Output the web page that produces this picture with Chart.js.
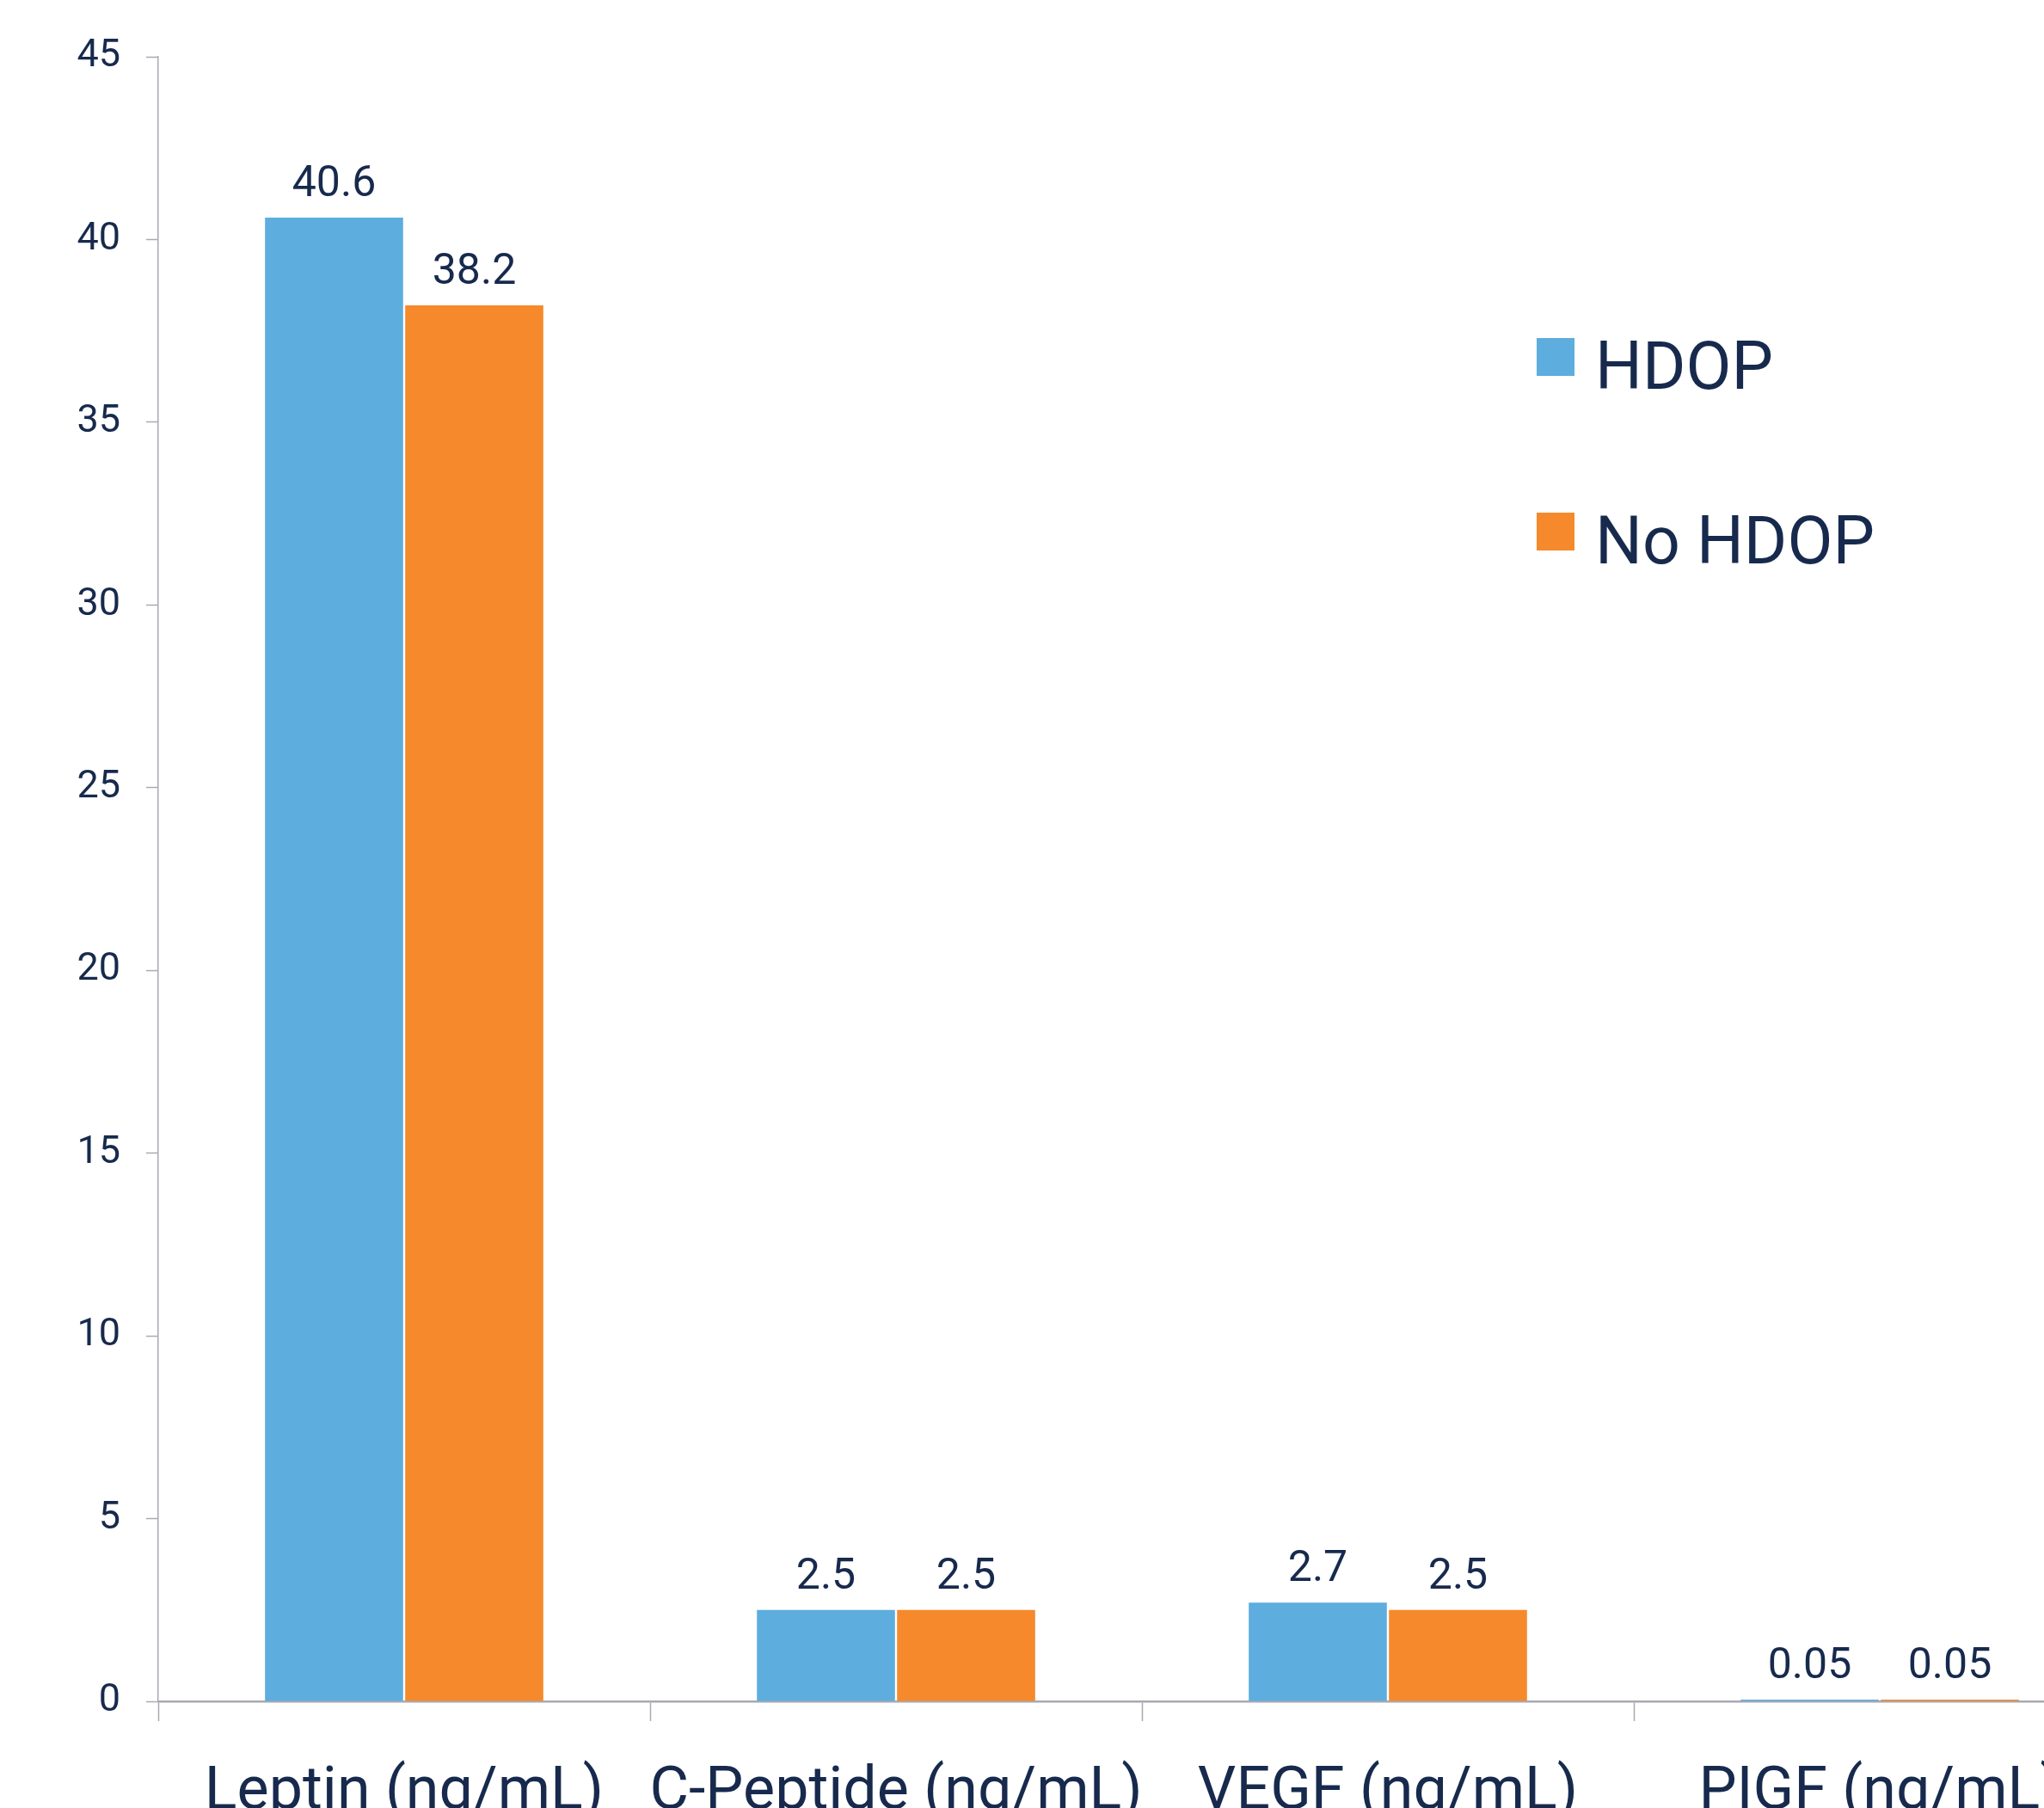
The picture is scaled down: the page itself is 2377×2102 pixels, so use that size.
<!DOCTYPE html>
<html>
<head>
<meta charset="utf-8">
<script src="https://cdn.jsdelivr.net/npm/chart.js@4.4.1/dist/chart.umd.min.js"></script>
<style>
  html, body { margin: 0; padding: 0; background: #fff; overflow: hidden; }
  #wrap { position: absolute; left: 0; top: 0; width: 2482px; height: 2160px; }
</style>
</head>
<body>
<div id="wrap"><canvas id="barChart"></canvas></div>
<script>
const CATEGORIES = ["Leptin (ng/mL)", "C-Peptide (ng/mL)", "VEGF (ng/mL)", "PIGF (ng/mL)"];
const HDOP = [40.6, 2.5, 2.7, 0.05];
const NO_HDOP = [38.2, 2.5, 2.5, 0.05];
const SERIES_NAMES = ["HDOP", "No HDOP"];
const Y_TICKS = [0, 5, 10, 15, 20, 25, 30, 35, 40, 45];

const NAVY = "#172a4d";
const AXIS = "#a9a9b3";
const FONT = "Roboto";

// value labels over each bar
const barLabels = {
  id: "barLabels",
  afterDatasetsDraw(chart) {
    const ctx = chart.ctx;
    ctx.save();
    ctx.font = "50px " + FONT;
    ctx.fillStyle = NAVY;
    ctx.textAlign = "center";
    ctx.textBaseline = "alphabetic";
    chart.data.datasets.forEach((ds, i) => {
      chart.getDatasetMeta(i).data.forEach((bar, j) => {
        ctx.fillText(String(ds.data[j]), bar.x, bar.y - 25);
      });
    });
    ctx.restore();
  }
};

// legend sitting inside the plot, top right
const sideLegend = {
  id: "sideLegend",
  afterDraw(chart, args, opts) {
    const ctx = chart.ctx;
    ctx.save();
    ctx.font = opts.size + "px " + FONT;
    ctx.textBaseline = "alphabetic";
    ctx.textAlign = "left";
    chart.data.datasets.forEach((ds, i) => {
      const y = opts.y + i * opts.step;
      ctx.fillStyle = ds.backgroundColor;
      ctx.fillRect(opts.x, y, opts.box, opts.box);
      ctx.fillStyle = NAVY;
      ctx.fillText(ds.label, opts.x + 68, y + 59);
    });
    ctx.restore();
  }
};

let barChart = new Chart(document.getElementById("barChart"), {
  type: "bar",
  data: {
    labels: CATEGORIES,
    datasets: [
      {
        label: SERIES_NAMES[0],
        data: HDOP,
        backgroundColor: "#5dadde",
        categoryPercentage: 0.57,
        barPercentage: 0.985
      },
      {
        label: SERIES_NAMES[1],
        data: NO_HDOP,
        backgroundColor: "#f5892b",
        categoryPercentage: 0.57,
        barPercentage: 0.985
      }
    ]
  },
  options: {
    responsive: true,
    maintainAspectRatio: false,
    animation: false,
    layout: { padding: { left: 0, right: 10, top: 66, bottom: 0 } },
    plugins: {
      legend: { display: false },
      tooltip: { enabled: false },
      sideLegend: { x: 1787, y: 393, box: 44, step: 203, size: 77 }
    },
    scales: {
      x: {
        offset: true,
        afterFit(scale) { scale.height = 182; },
        grid: {
          offset: true,
          drawOnChartArea: false,
          drawTicks: true,
          tickLength: 23,
          tickWidth: 1.5,
          tickColor: AXIS
        },
        border: { color: AXIS, width: 2.5 },
        ticks: {
          color: NAVY,
          font: { family: FONT, size: 70 },
          padding: 42,
          maxRotation: 0,
          autoSkip: false
        }
      },
      y: {
        min: 0,
        max: 45,
        afterFit(scale) { scale.width = 184; },
        afterBuildTicks(scale) { scale.ticks = Y_TICKS.map(v => ({ value: v })); },
        grid: {
          drawOnChartArea: false,
          drawTicks: true,
          tickLength: 14,
          tickWidth: 1.5,
          tickColor: AXIS
        },
        border: { color: AXIS, width: 1.5 },
        ticks: {
          color: NAVY,
          font: { family: FONT, size: 45 },
          padding: 30
        }
      }
    }
  },
  plugins: [barLabels, sideLegend]
});
</script>
</body>
</html>
